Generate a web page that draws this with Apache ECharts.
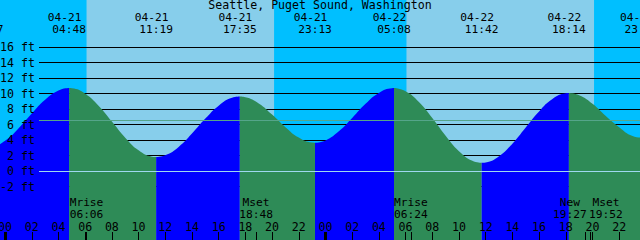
<!DOCTYPE html>
<html><head><meta charset="utf-8">
<script src="https://cdn.jsdelivr.net/npm/echarts@6/dist/echarts.min.js"></script>
<style>html,body{margin:0;padding:0;background:#fff}#c{width:640px;height:240px}</style>
</head><body><div id="c"></div>
<script>
// ---------- data ----------
const chartTitle = 'Seattle, Puget Sound, Washington';

// tide extremes (low / high) : date, time, height (ft)
const tideDates = ['04-20','04-21','04-21','04-21','04-21','04-22','04-22','04-22','04-22'];
const tideTimes = ['22:37','04:48','11:19','17:35','23:13','05:08','11:42','18:14','23:40'];
const tideFeet  = [3.0, 10.7, 1.8, 9.6, 3.65, 10.7, 1.05, 10.05, 4.3];

// water level, hours after 04-21 00:00
const hourlyHours = [-1,0,1,2,3,4,5,6,7,8,9,10,11,12,13,14,15,16,17,18,19,20,21,22,23,
                     24,25,26,27,28,29,30,31,32,33,34,35,36,37,38,39,40,41,42,43,44,45,46,47];
const hourlyFeet  = [3.07,3.91,5.50,7.42,9.20,10.39,10.68,9.98,8.43,6.38,4.30,2.67,1.85,
                     2.03,3.11,4.83,6.76,8.43,9.44,9.52,8.72,7.28,5.65,4.31,3.67,
                     3.95,5.12,6.85,8.67,10.08,10.69,10.29,8.90,6.83,4.55,2.56,1.32,
                     1.10,1.90,3.53,5.62,7.69,9.29,10.02,9.77,8.67,7.09,5.65,4.51];

// sun events (day / night background)
const sunDates = ['04-21','04-21','04-22','04-22'];
const sunTimes = ['06:07','20:09','06:05','20:07'];
const sunKinds = ['rise','set','rise','set'];

// moon events
const moonNames = ['Mrise','Mset','Mrise','New','Mset'];
const moonDates = ['04-21','04-21','04-22','04-22','04-22'];
const moonTimes = ['06:06','18:48','06:24','19:27','19:52'];

// axes
const feetTicks = [-2,0,2,4,6,8,10,12,14,16];
const hourTicks = [0,2,4,6,8,10,12,14,16,18,20,22,24,26,28,30,32,34,36,38,40,42,44,46];
const midnightTicks = [0,24];
const meanLevel = 6.58;

// ---------- styling ----------
const FONT_FAMILY = 'DejaVu Sans Mono';
const FONT_SIZE = 11.6;
const LABEL_FONT = '11.2px "' + FONT_FAMILY + '"';
const NIGHT = '#00BFFF', DAY = '#87CEEB', FLOOD = '#0000FF', EBB = '#2E8B57';
const X_MIN = -0.38, X_MAX = 47.56;

function toHours(d, t) {
  const day = parseInt(d.slice(3), 10) - 21;
  const p = t.split(':');
  return day * 24 + parseInt(p[0], 10) + parseInt(p[1], 10) / 60;
}

const tideEv = tideDates.map((d, i) => [toHours(d, tideTimes[i]), tideFeet[i]]);
const waterSeries = [];
for (let i = 0; i < tideEv.length - 1; i++) {
  const a = tideEv[i], b = tideEv[i + 1];
  const pts = [a];
  hourlyHours.forEach((h, j) => { if (h > a[0] + 0.05 && h < b[0] - 0.05) pts.push([h, hourlyFeet[j]]); });
  pts.push(b);
  const col = b[1] > a[1] ? FLOOD : EBB;
  waterSeries.push({
    type: 'line', xAxisIndex: 0, yAxisIndex: 0, z: 3, data: pts,
    smooth: 0.5, showSymbol: false, silent: true, animation: false,
    lineStyle: { width: 0, color: col },
    areaStyle: { color: col, opacity: 1, origin: 'start' }
  });
}

const sunH = sunDates.map((d, i) => toHours(d, sunTimes[i]));
const spans = [];
let st = -3;
sunH.forEach((h, i) => { spans.push([st, h, sunKinds[i] === 'rise' ? 1 : 0]); st = h; });
spans.push([st, 51, sunKinds[sunKinds.length - 1] === 'set' ? 1 : 0]);

const moonH = moonDates.map((d, i) => toHours(d, moonTimes[i]));

function txt(x, y, s) {
  return { type: 'text', x: x, y: y,
    style: { text: s, fill: '#000', font: LABEL_FONT, lineHeight: 10, align: 'center', verticalAlign: 'middle',
             textAlign: 'center', textVerticalAlign: 'middle' } };
}

const noLine = { show: false, onZero: false };
const chart = echarts.init(document.getElementById('c'), null, { renderer: 'svg', width: 640, height: 240 });
chart.setOption({
  animation: false,
  backgroundColor: DAY,
  title: { text: chartTitle, left: 'center', top: 0, padding: 0,
    textStyle: { fontFamily: FONT_FAMILY, fontSize: FONT_SIZE, fontWeight: 'normal', color: '#000', lineHeight: 10 } },
  grid: [
    { left: 0, right: 0, top: 0, bottom: 0, containLabel: false, outerBoundsMode: 'none' },
    { left: 39, right: 0, top: 47, bottom: 53.5, containLabel: false, outerBoundsMode: 'none' }
  ],
  xAxis: [
    { gridIndex: 0, type: 'value', min: X_MIN, max: X_MAX, position: 'bottom', z: 5,
      axisLine: noLine, splitLine: { show: false },
      axisTick: { show: true, inside: true, length: 8, customValues: hourTicks, lineStyle: { color: '#000', width: 1 } },
      axisLabel: { show: true, inside: true, margin: 8, customValues: hourTicks,
        color: '#000', fontFamily: FONT_FAMILY, fontSize: FONT_SIZE, lineHeight: 10,
        formatter: v => String(((Math.round(v) % 24) + 24) % 24).padStart(2, '0') } },
    { gridIndex: 0, type: 'value', min: X_MIN, max: X_MAX, position: 'bottom', z: 5,
      axisLine: noLine, splitLine: { show: false }, axisLabel: { show: false },
      axisTick: { show: true, inside: true, length: 8, customValues: midnightTicks, lineStyle: { color: '#000', width: 3 } } },
    { gridIndex: 0, type: 'value', min: X_MIN, max: X_MAX, position: 'bottom', z: 5,
      axisLine: noLine, splitLine: { show: false }, axisLabel: { show: false },
      axisTick: { show: true, inside: true, length: 8, customValues: moonH, lineStyle: { color: '#000', width: 1 } } },
    { gridIndex: 1, type: 'value', min: X_MIN, max: X_MAX, show: false, axisLine: noLine }
  ],
  yAxis: [
    { gridIndex: 0, type: 'value', min: -8.903, max: 22.065, show: false, axisLine: noLine },
    { gridIndex: 1, type: 'value', min: -2, max: 16, interval: 2, z: 2,
      axisLine: noLine, axisTick: { show: false }, axisLabel: { show: false },
      splitLine: { show: true, lineStyle: { color: '#000', width: 1 } } },
    { gridIndex: 1, type: 'value', min: -2, max: 16, interval: 2, z: 6, position: 'left',
      axisLine: noLine, axisTick: { show: false }, splitLine: { show: false },
      axisLabel: { margin: 4, color: '#000', fontFamily: FONT_FAMILY, fontSize: FONT_SIZE, lineHeight: 10,
        customValues: feetTicks, formatter: v => v + ' ft' } }
  ],
  series: [
    { type: 'custom', xAxisIndex: 0, yAxisIndex: 0, z: 1, clip: true, silent: true,
      data: spans,
      renderItem: (p, api) => {
        const x0 = api.coord([api.value(0), 0])[0], x1 = api.coord([api.value(1), 0])[0];
        const cs = p.coordSys;
        return { type: 'rect', shape: { x: x0, y: cs.y, width: x1 - x0, height: cs.height },
                 style: { fill: api.value(2) ? NIGHT : DAY } };
      } },
    ...waterSeries,
    { type: 'line', xAxisIndex: 3, yAxisIndex: 1, data: [], silent: true,
      markLine: { z: 4, symbol: 'none', silent: true, label: { show: false }, animation: false,
        data: [
          { yAxis: 0, lineStyle: { color: '#9fd8ef', width: 1, type: 'solid' } },
          { yAxis: meanLevel, lineStyle: { color: '#55a58a', width: 1, type: 'solid' } }
        ] } },
    { type: 'custom', xAxisIndex: 0, yAxisIndex: 0, z: 6, clip: false, silent: true,
      data: tideEv.map(e => [e[0], e[1]]),
      renderItem: (p, api) => {
        const x = api.coord([api.value(0), 0])[0];
        const i = p.dataIndex;
        return { type: 'group', children: [txt(x - 4.5, 17.8, tideDates[i]), txt(x, 29.4, tideTimes[i])] };
      } },
    { type: 'custom', xAxisIndex: 0, yAxisIndex: 0, z: 6, clip: false, silent: true,
      data: moonH.map(h => [h, 0]),
      renderItem: (p, api) => {
        const xs = moonH.map(h => api.coord([h, 0])[0]);
        const w = 36;
        for (let k = 1; k < xs.length; k++) {
          const d = xs[k] - xs[k - 1];
          if (d < w) { const s = (w - d) / 2; xs[k - 1] -= s; xs[k] += s; }
        }
        const i = p.dataIndex;
        return { type: 'group', children: [txt(xs[i], 202, moonNames[i]), txt(xs[i], 214.2, moonTimes[i])] };
      } }
  ]
});
</script></body></html>
